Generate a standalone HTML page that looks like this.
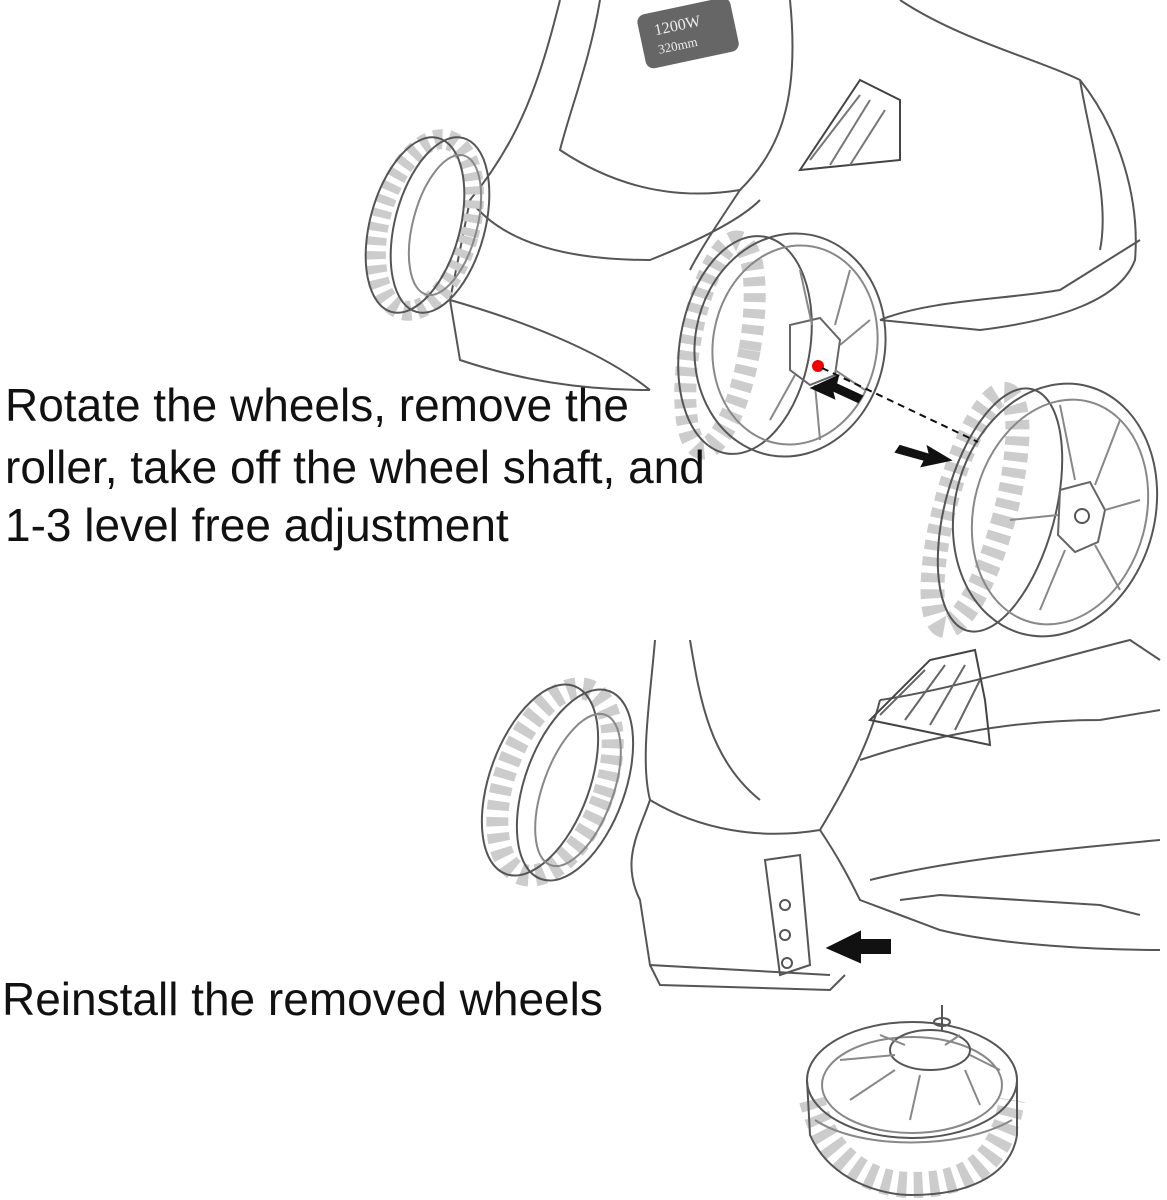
<!DOCTYPE html>
<html><head><meta charset="utf-8"><style>
html,body{margin:0;padding:0;background:#fff;}
body{width:1167px;height:1200px;position:relative;overflow:hidden;font-family:"Liberation Sans",sans-serif;}
.t{position:absolute;font-size:46px;color:#111;white-space:nowrap;line-height:58px;}
svg{position:absolute;left:0;top:0;}
</style></head><body>
<svg width="1167" height="1200" viewBox="0 0 1167 1200" fill="none" stroke="#555" stroke-width="2">
<!-- top mower body -->
<path d="M560 0 C540 80 520 140 470 200 L450 300 C520 320 600 350 650 390"/>
<path d="M600 0 C590 60 570 110 560 150 C620 190 680 200 740 190 C780 150 800 100 790 0"/>
<path d="M740 190 C720 220 700 250 690 270"/>
<path d="M900 0 C960 40 1040 60 1080 80 C1120 130 1140 200 1135 260 C1120 300 1060 320 980 330 L880 320"/>
<path d="M1080 80 C1090 140 1110 200 1100 250"/>
<path d="M800 170 L860 80 L900 100 L900 160 Z" stroke="#444"/>
<path d="M810 160 L860 95 M830 165 L870 100 M850 165 L885 110" stroke="#777"/>
<path d="M450 300 L460 360 C520 380 580 390 650 390" />
<path d="M880 320 C930 300 1000 300 1060 290 L1140 240"/>
<path d="M470 200 C500 240 560 260 650 260 C700 240 740 220 760 200"/>
<rect x="640" y="5" width="95" height="55" rx="8" fill="#666" stroke="none" transform="rotate(-12 690 30)"/>
<text x="655" y="28" fill="#eee" stroke="none" font-size="16" transform="rotate(-12 690 30)" font-family="Liberation Serif">1200W</text>
<text x="655" y="47" fill="#eee" stroke="none" font-size="13" transform="rotate(-12 690 30)" font-family="Liberation Serif">320mm</text>
<!-- back-left wheel -->
<ellipse cx="425" cy="225" rx="45" ry="88" transform="rotate(15 425 225)" stroke="#ccc" stroke-width="20" stroke-dasharray="8 6"/>
<ellipse cx="415" cy="225" rx="45" ry="90" transform="rotate(15 415 225)"/>
<ellipse cx="440" cy="225" rx="45" ry="90" transform="rotate(15 440 225)"/>
<ellipse cx="445" cy="225" rx="32" ry="72" transform="rotate(15 445 225)" stroke="#888"/>
<!-- front wheel -->
<ellipse cx="720" cy="345" rx="30" ry="105" transform="rotate(10 720 345)" stroke="#ccc" stroke-width="22" stroke-dasharray="9 7"/>
<ellipse cx="745" cy="345" rx="65" ry="110" transform="rotate(10 745 345)"/>
<ellipse cx="790" cy="345" rx="95" ry="112" transform="rotate(10 790 345)"/>
<ellipse cx="795" cy="345" rx="82" ry="100" transform="rotate(10 795 345)" stroke="#888"/>
<polygon points="790,325 820,318 840,340 835,375 810,385 790,370" stroke="#666"/>
<circle cx="818" cy="366" r="6" fill="#e00" stroke="none"/>
<path d="M800 270 L812 325 M850 270 L835 325 M870 320 L840 345 M865 390 L835 370 M820 440 L815 385 M770 420 L795 375" stroke="#888"/>
<!-- detached wheel -->
<ellipse cx="975" cy="510" rx="30" ry="120" transform="rotate(15 975 510)" stroke="#ccc" stroke-width="24" stroke-dasharray="9 7"/>
<ellipse cx="1000" cy="510" rx="55" ry="125" transform="rotate(15 1000 510)"/>
<ellipse cx="1055" cy="510" rx="100" ry="128" transform="rotate(15 1055 510)"/>
<ellipse cx="1060" cy="512" rx="86" ry="114" transform="rotate(15 1060 512)" stroke="#888"/>
<polygon points="1060,490 1090,482 1105,510 1098,542 1075,552 1058,535" stroke="#666"/>
<circle cx="1082" cy="516" r="7"/>
<path d="M1060 405 L1075 480 M1120 420 L1095 485 M1140 500 L1105 510 M1120 590 L1095 545 M1040 610 L1065 550 M1010 520 L1058 515" stroke="#888"/>
<!-- dashed line + arrows -->
<line x1="822" y1="368" x2="978" y2="442" stroke="#111" stroke-width="2" stroke-dasharray="7 5"/>
<path d="M858 402 L832 390 L834 398 L812 388 L838 376 L836 384 L862 396 Z" fill="#111" stroke="#111"/>
<path d="M900 446 L930 455 L928 447 L950 460 L922 466 L925 460 L896 452 Z" fill="#111" stroke="#111"/>
<!-- bottom mower -->
<path d="M655 640 C650 700 640 760 650 800 C640 830 620 860 640 900 L650 965 L830 975"/>
<path d="M650 800 C700 830 760 840 820 830 C850 780 870 740 880 700"/>
<path d="M690 640 C700 700 710 760 760 800"/>
<path d="M880 700 C950 690 1050 660 1130 640 L1160 660"/>
<path d="M860 760 C920 740 1000 720 1100 720 L1160 710"/>
<path d="M820 830 C840 860 850 880 860 900 L940 930 C1000 945 1100 950 1160 950"/>
<path d="M870 880 C950 860 1050 850 1160 840"/>
<path d="M900 900 L940 895 L1100 905 L1140 915"/>
<path d="M870 720 L930 660 L975 650 L985 700 L990 745 Z" stroke="#444"/>
<path d="M880 715 L925 670 M905 720 L945 665 M930 725 L965 665 M955 730 L980 680" stroke="#666"/>
<path d="M765 860 L800 855 L810 965 L780 975 Z"/>
<circle cx="785" cy="905" r="5"/><circle cx="785" cy="935" r="5"/><circle cx="787" cy="963" r="5"/>
<path d="M650 965 L660 985 L830 990 L845 975"/>
<!-- bottom left wheel -->
<ellipse cx="555" cy="782" rx="50" ry="98" transform="rotate(20 555 782)" stroke="#ccc" stroke-width="22" stroke-dasharray="9 7"/>
<ellipse cx="540" cy="780" rx="50" ry="100" transform="rotate(20 540 780)"/>
<ellipse cx="575" cy="785" rx="50" ry="100" transform="rotate(20 575 785)"/>
<ellipse cx="578" cy="790" rx="35" ry="80" transform="rotate(20 578 790)" stroke="#888"/>
<!-- bottom arrow -->
<path d="M890 940 L860 940 L860 932 L828 948 L860 962 L860 953 L890 953 Z" fill="#111" stroke="#111"/>
<!-- lying wheel -->
<path d="M812 1100 C830 1170 880 1185 912 1185 C960 1185 1000 1170 1012 1100" stroke="#ccc" stroke-width="26" stroke-dasharray="9 7"/>
<ellipse cx="912" cy="1080" rx="105" ry="58"/>
<ellipse cx="912" cy="1085" rx="90" ry="48" stroke="#888"/>
<path d="M807 1080 L810 1135 C830 1180 880 1195 912 1195 C960 1195 1010 1180 1017 1135 L1017 1080"/>
<path d="M815 1120 C860 1150 960 1150 1012 1120" stroke="#888"/>
<ellipse cx="930" cy="1050" rx="40" ry="20"/>
<ellipse cx="942" cy="1022" rx="8" ry="4"/>
<line x1="942" y1="1005" x2="942" y2="1030"/>
<path d="M840 1060 L895 1055 M850 1100 L895 1070 M910 1120 L920 1075 M980 1105 L965 1070 M1000 1070 L970 1055 M960 1035 L945 1045 M880 1035 L905 1045" stroke="#888"/>
</svg>
<div class="t" style="left:5px;top:376px;">Rotate the wheels, remove the</div>
<div class="t" style="left:5px;top:438px;">roller, take off the wheel shaft, and</div>
<div class="t" style="left:5px;top:496px;">1-3 level free adjustment</div>
<div class="t" style="left:2px;top:970px;">Reinstall the removed wheels</div>
</body></html>
